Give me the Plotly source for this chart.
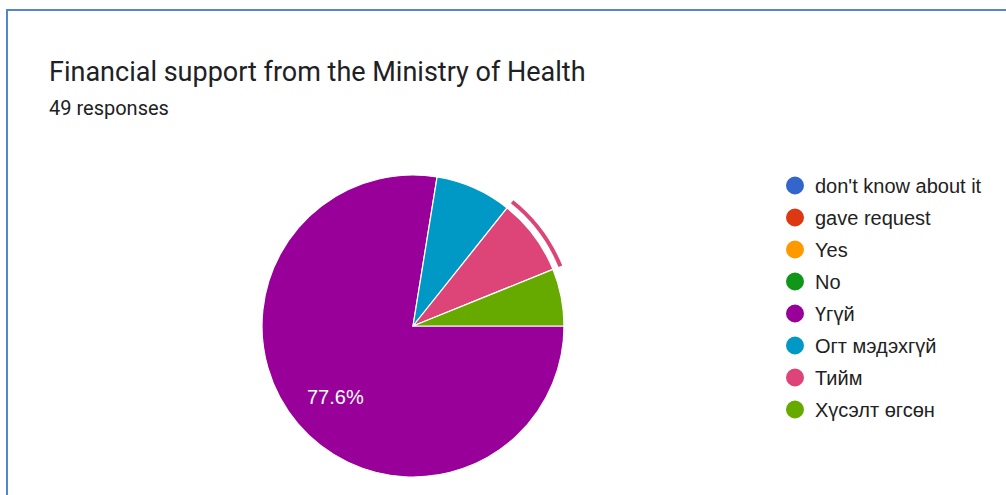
import plotly.graph_objects as go

# Survey answers (49 responses)
labels = ["don't know about it", "gave request", "Yes", "No",
          "Үгүй", "Огт мэдэхгүй", "Тийм", "Хүсэлт өгсөн"]
counts = [0, 0, 0, 0, 38, 4, 4, 3]
colors = ["#3366cc", "#dc3912", "#ff9900", "#109618",
          "#990099", "#0099c6", "#dd4477", "#66aa00"]
highlighted = "Тийм"

title_text = "Financial support from the Ministry of Health"
subtitle_text = f"{sum(counts)} responses"

W, H = 1006, 495
cx, cy, r = 413, 326, 151
ring_in, ring_out = 157, 161

total = sum(counts)
big = max(range(len(counts)), key=lambda i: counts[i])
big_label = f"{100 * counts[big] / total:.1f}%"


def dom(radius):
    return dict(x=[(cx - radius) / W, (cx + radius) / W],
                y=[1 - (cy + radius) / H, 1 - (cy - radius) / H])


fig = go.Figure()

fig.add_trace(go.Pie(
    labels=labels, values=counts, sort=False, direction="clockwise",
    rotation=90, marker=dict(colors=colors, line=dict(color="white", width=1.2)),
    textinfo="none", showlegend=False, domain=dom(r), hoverinfo="label+percent",
))

# highlight ring around the selected slice
ring_colors = [c if l == highlighted else "rgba(0,0,0,0)" for l, c in zip(labels, colors)]
fig.add_trace(go.Pie(
    labels=labels, values=counts, sort=False, direction="clockwise",
    rotation=90, hole=ring_in / ring_out,
    marker=dict(colors=ring_colors, line=dict(width=0)),
    textinfo="none", showlegend=False, domain=dom(ring_out), hoverinfo="skip",
))

# legend entries with round markers
for i, (l, c) in enumerate(zip(labels, colors)):
    fig.add_trace(go.Scatter(
        x=[None], y=[None], mode="markers", name=l, legendgroup=f"g{i}",
        marker=dict(symbol="circle", size=19, color=c, line=dict(color=c, width=2)),
    ))

fig.update_layout(
    width=W, height=H, margin=dict(l=0, r=0, t=0, b=0),
    paper_bgcolor="white", plot_bgcolor="white",
    xaxis=dict(visible=False), yaxis=dict(visible=False),
    legend=dict(x=775 / W, y=1 - 166 / H, xanchor="left", yanchor="top",
                font=dict(family="Liberation Sans, Arial", size=20, color="#222222"),
                tracegroupgap=3, itemwidth=30, bgcolor="rgba(0,0,0,0)"),
    annotations=[
        dict(text=title_text, x=47 / W, y=1 - 72 / H, xref="paper", yref="paper",
             xanchor="left", yanchor="middle", showarrow=False,
             font=dict(family="Roboto", size=27, color="#202124")),
        dict(text=subtitle_text, x=47 / W, y=1 - 108 / H, xref="paper", yref="paper",
             xanchor="left", yanchor="middle", showarrow=False,
             font=dict(family="Roboto", size=20, color="#202124")),
        # percentage label on the largest slice
        dict(text=big_label, x=335 / W, y=1 - 397 / H, xref="paper", yref="paper",
             xanchor="center", yanchor="middle", showarrow=False,
             font=dict(family="Liberation Sans, Arial", size=20, color="white")),
    ],
    shapes=[dict(type="rect", xref="paper", yref="paper",
                 x0=7 / W, x1=1.05, y0=-0.05, y1=1 - 10 / H,
                 line=dict(color="#5583d6", width=2))],
)

fig.write_html("out.html")
